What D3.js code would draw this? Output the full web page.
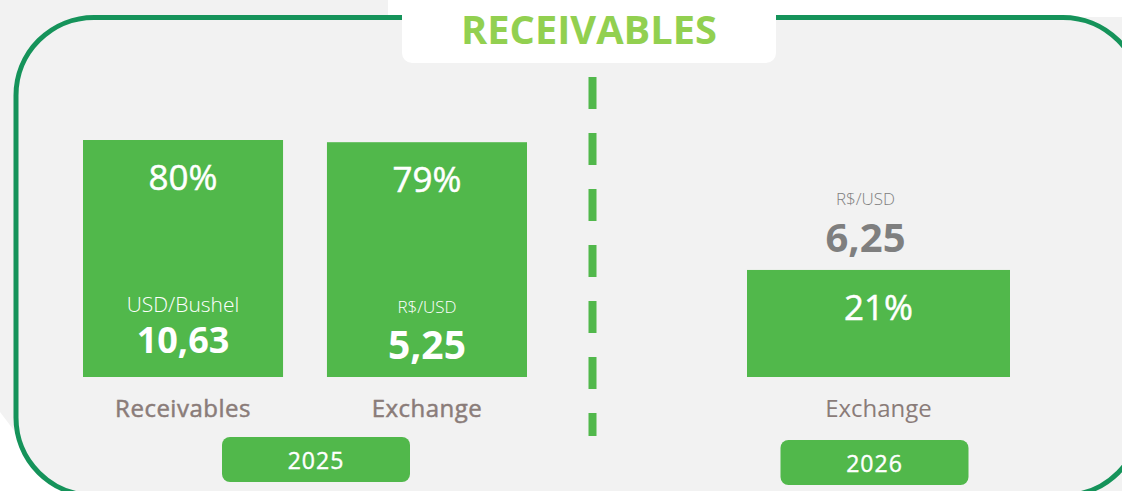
<!DOCTYPE html>
<html>
<head>
<meta charset="utf-8">
<script src="https://cdn.jsdelivr.net/npm/d3@7"></script>
<style>
  html, body { margin: 0; padding: 0; background: #ffffff; }
  svg { display: block; }
</style>
</head>
<body>
<svg id="chart" width="1122" height="491"></svg>
<script>
// Share of receivables / exchange already fixed, per crop year
const years = ["2025", "2026"];
const barYears = ["2025", "2025", "2026"];
const categories = ["Receivables", "Exchange", "Exchange"];
const shares = [80, 79, 21];
const units = ["USD/Bushel", "R$/USD", "R$/USD"];
const prices = ["10,63", "5,25", "6,25"];
const title = "RECEIVABLES";

const W = 1122, H = 491;
const green = "#51b84b";
const frameGreen = "#15935a";
const font = "'Open Sans', 'DejaVu Sans', sans-serif";

const svg = d3.select("#chart");

// Backdrop panel
svg.append("path")
  .attr("d", "M0,0H388V17H1122V491H60L0,412Z")
  .attr("fill", "#f2f2f2");

// Rounded frame
svg.append("rect")
  .attr("x", 16).attr("y", 17.5)
  .attr("width", 1125).attr("height", 478)
  .attr("rx", 78).attr("ry", 78)
  .attr("fill", "#f2f2f2")
  .attr("stroke", frameGreen)
  .attr("stroke-width", 5);

// Title tab
svg.append("rect")
  .attr("x", 402).attr("y", -20)
  .attr("width", 374).attr("height", 83)
  .attr("rx", 10)
  .attr("fill", "#ffffff");
svg.append("text")
  .attr("x", 589).attr("y", 44)
  .attr("text-anchor", "middle")
  .attr("font-family", font)
  .attr("font-weight", 700)
  .attr("font-size", 40)
  .attr("fill", "#92d050")
  .attr("textLength", 256)
  .attr("lengthAdjust", "spacingAndGlyphs")
  .text(title);

// Year divider
svg.append("line")
  .attr("x1", 592.5).attr("x2", 592.5)
  .attr("y1", 77).attr("y2", 436)
  .attr("stroke", green)
  .attr("stroke-width", 8)
  .attr("stroke-dasharray", "32 24");

// Scales
const y = d3.scaleLinear().domain([-27.6, 80]).range([377, 140]);
const xPanel = {
  "2025": d3.scaleBand().domain([0, 1]).range([83, 527]).paddingInner(0.18),
  "2026": d3.scaleBand().domain([2]).range([747, 1010]).padding(0)
};

const bars = shares.map((v, i) => {
  const xs = xPanel[barYears[i]];
  return { i, v, year: barYears[i], x: xs(i), w: xs.bandwidth(), cat: categories[i], unit: units[i], price: prices[i] };
});

svg.selectAll("rect.bar")
  .data(bars)
  .join("rect")
  .attr("class", "bar")
  .attr("x", d => d.x)
  .attr("y", d => y(d.v))
  .attr("width", d => d.w)
  .attr("height", d => y.range()[0] - y(d.v))
  .attr("fill", green);

const cx = d => d.x + d.w / 2;

// Percent labels
svg.selectAll("text.pct")
  .data(bars)
  .join("text")
  .attr("class", "pct")
  .attr("x", cx)
  .attr("y", d => y(d.v) + 50)
  .attr("text-anchor", "middle")
  .attr("font-family", font)
  .attr("font-size", 35)
  .attr("fill", "#ffffff")
  .attr("stroke", "#ffffff")
  .attr("stroke-width", 0.5)
  .text(d => d.v + "%");

// Unit + price labels: inside the bar for 2025, above the bar for 2026
const unitSize = [21, 17, 17];
const priceSize = [36, 39, 40];
const inside = d => d.year === "2025";

svg.selectAll("text.unit")
  .data(bars)
  .join("text")
  .attr("class", "unit")
  .attr("x", d => inside(d) ? cx(d) : cx(d) - 13)
  .attr("y", d => inside(d) ? y.range()[0] - (d.i === 0 ? 65 : 64) : y(d.v) - 65)
  .attr("text-anchor", "middle")
  .attr("font-family", font)
  .attr("font-weight", 300)
  .attr("font-size", d => unitSize[d.i])
  .attr("fill", d => inside(d) ? "#ffffff" : "#808080")
  .text(d => d.unit);

svg.selectAll("text.price")
  .data(bars)
  .join("text")
  .attr("class", "price")
  .attr("x", d => inside(d) ? cx(d) : cx(d) - 13)
  .attr("y", d => inside(d) ? y.range()[0] - (d.i === 0 ? 24 : 18) : y(d.v) - 18)
  .attr("text-anchor", "middle")
  .attr("font-family", font)
  .attr("font-weight", 700)
  .attr("font-size", d => priceSize[d.i])
  .attr("fill", d => inside(d) ? "#ffffff" : "#7f7f7f")
  .text(d => d.price);

// Category labels under the bars
svg.selectAll("text.cat")
  .data(bars)
  .join("text")
  .attr("class", "cat")
  .attr("x", cx)
  .attr("y", 417)
  .attr("text-anchor", "middle")
  .attr("font-family", font)
  .attr("font-size", 24)
  .attr("fill", "#8a7c79")
  .attr("stroke", "#8a7c79")
  .attr("stroke-width", d => inside(d) ? 0.5 : 0)
  .attr("letter-spacing", d => inside(d) ? 0.5 : 0)
  .text(d => d.cat);

// Year tags
const yearTags = years.map(yr => {
  const b = bars.filter(d => d.year === yr);
  const left = d3.min(b, d => d.x), right = d3.max(b, d => d.x + d.w);
  const mid = (left + right) / 2 + (yr === "2025" ? 11 : -4);
  return { yr, mid, top: yr === "2025" ? 437 : 440 };
});

svg.selectAll("rect.tag")
  .data(yearTags)
  .join("rect")
  .attr("class", "tag")
  .attr("x", d => d.mid - 94)
  .attr("y", d => d.top)
  .attr("width", 188)
  .attr("height", 45)
  .attr("rx", 8)
  .attr("fill", green);

svg.selectAll("text.tag")
  .data(yearTags)
  .join("text")
  .attr("class", "tag")
  .attr("x", d => d.mid)
  .attr("y", d => d.top + 32)
  .attr("text-anchor", "middle")
  .attr("font-family", font)
  .attr("font-size", 23)
  .attr("fill", "#ffffff")
  .attr("stroke", "#ffffff")
  .attr("stroke-width", 0.4)
  .attr("letter-spacing", 1)
  .text(d => d.yr);
</script>
</body>
</html>
